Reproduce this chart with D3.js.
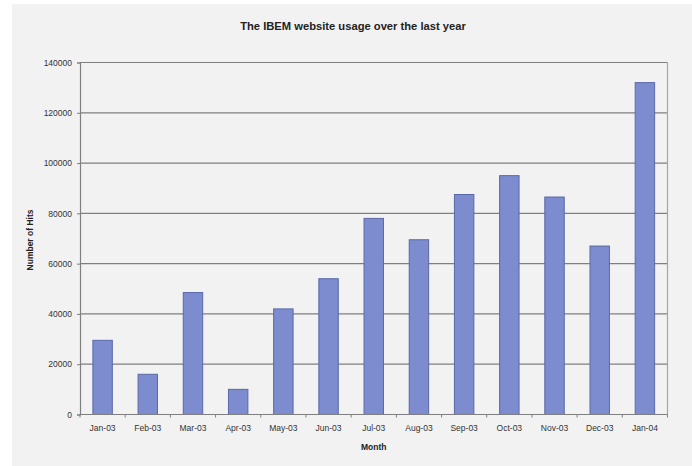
<!DOCTYPE html>
<html>
<head>
<meta charset="utf-8">
<script src="https://cdn.jsdelivr.net/npm/d3@7"></script>
<style>
  html, body { margin: 0; padding: 0; background: #ffffff; }
  svg { display: block; font-family: "Liberation Sans", Arial, sans-serif; }
</style>
</head>
<body>
<svg id="chart" width="692" height="466"></svg>
<script>
// Monthly hits on the IBEM website
const months = ["Jan-03", "Feb-03", "Mar-03", "Apr-03", "May-03", "Jun-03", "Jul-03",
                "Aug-03", "Sep-03", "Oct-03", "Nov-03", "Dec-03", "Jan-04"];
const hits = [29500, 16000, 48500, 10000, 42000, 54000, 78000,
              69500, 87500, 95000, 86500, 67000, 132000];
const yTicks = [0, 20000, 40000, 60000, 80000, 100000, 120000, 140000];

const titleText = "The IBEM website usage over the last year";
const xTitle = "Month";
const yTitle = "Number of Hits";

const svg = d3.select("#chart");
const W = 692, H = 466;
const plot = { left: 80, right: 667.5, top: 62.5, bottom: 414.5 };

// chart background
svg.append("rect")
  .attr("x", 12).attr("y", 4)
  .attr("width", W - 12).attr("height", H - 4)
  .attr("fill", "#f2f2f2");

const x = d3.scaleBand()
  .domain(months)
  .range([plot.left, plot.right])
  .paddingInner(0.57)
  .paddingOuter(0.285);

const y = d3.scaleLinear()
  .domain([0, 140000])
  .range([plot.bottom, plot.top]);

// horizontal gridlines
svg.append("g")
  .selectAll("line")
  .data(yTicks.filter(d => d > 0))
  .join("line")
  .attr("x1", plot.left).attr("x2", plot.right)
  .attr("y1", d => y(d)).attr("y2", d => y(d))
  .attr("stroke", "#7f7f7f").attr("stroke-width", 1.2);

// right border of plot area
svg.append("line")
  .attr("x1", plot.right).attr("x2", plot.right)
  .attr("y1", plot.top).attr("y2", plot.bottom)
  .attr("stroke", "#a6a6a6").attr("stroke-width", 1.2);

// bars
svg.append("g")
  .selectAll("rect")
  .data(hits)
  .join("rect")
  .attr("x", (d, i) => x(months[i]))
  .attr("y", d => y(d))
  .attr("width", x.bandwidth())
  .attr("height", d => y(0) - y(d))
  .attr("fill", "#7c8cce")
  .attr("stroke", "#5a69a8")
  .attr("stroke-width", 1);

// y axis
const yAxis = svg.append("g")
  .attr("transform", `translate(${plot.left},0)`)
  .call(d3.axisLeft(y).tickValues(yTicks).tickSize(3).tickPadding(5).tickFormat(d3.format("d")));
yAxis.select(".domain").attr("stroke", "#7f7f7f").attr("stroke-width", 1.2);
yAxis.selectAll(".tick line").attr("stroke", "#7f7f7f");
yAxis.selectAll(".tick text")
  .attr("font-size", 8.5)
  .attr("font-family", "Liberation Sans, Arial, sans-serif")
  .attr("fill", "#333");

// x axis with ticks between categories
const xAxis = svg.append("g")
  .attr("transform", `translate(0,${plot.bottom})`)
  .call(d3.axisBottom(x).tickSize(0).tickPadding(10));
xAxis.select(".domain").remove();
xAxis.append("line")
  .attr("x1", plot.left).attr("x2", plot.right)
  .attr("stroke", "#7f7f7f").attr("stroke-width", 1.2);
xAxis.selectAll(".tick text")
  .attr("font-size", 8.5)
  .attr("font-family", "Liberation Sans, Arial, sans-serif")
  .attr("fill", "#333");
xAxis.append("g")
  .selectAll("line")
  .data(d3.range(months.length + 1))
  .join("line")
  .attr("x1", i => plot.left + i * (plot.right - plot.left) / months.length)
  .attr("x2", i => plot.left + i * (plot.right - plot.left) / months.length)
  .attr("y1", 0).attr("y2", 3)
  .attr("stroke", "#7f7f7f");

// titles
svg.append("text")
  .attr("x", 353).attr("y", 29.5)
  .attr("text-anchor", "middle")
  .attr("font-size", 11.2).attr("font-weight", "bold")
  .attr("fill", "#222")
  .text(titleText);

svg.append("text")
  .attr("x", (plot.left + plot.right) / 2).attr("y", 450)
  .attr("text-anchor", "middle")
  .attr("font-size", 8.5).attr("font-weight", "bold")
  .attr("fill", "#222")
  .text(xTitle);

svg.append("text")
  .attr("transform", `translate(33,240) rotate(-90)`)
  .attr("text-anchor", "middle")
  .attr("font-size", 8.5).attr("font-weight", "bold")
  .attr("fill", "#222")
  .text(yTitle);
</script>
</body>
</html>
